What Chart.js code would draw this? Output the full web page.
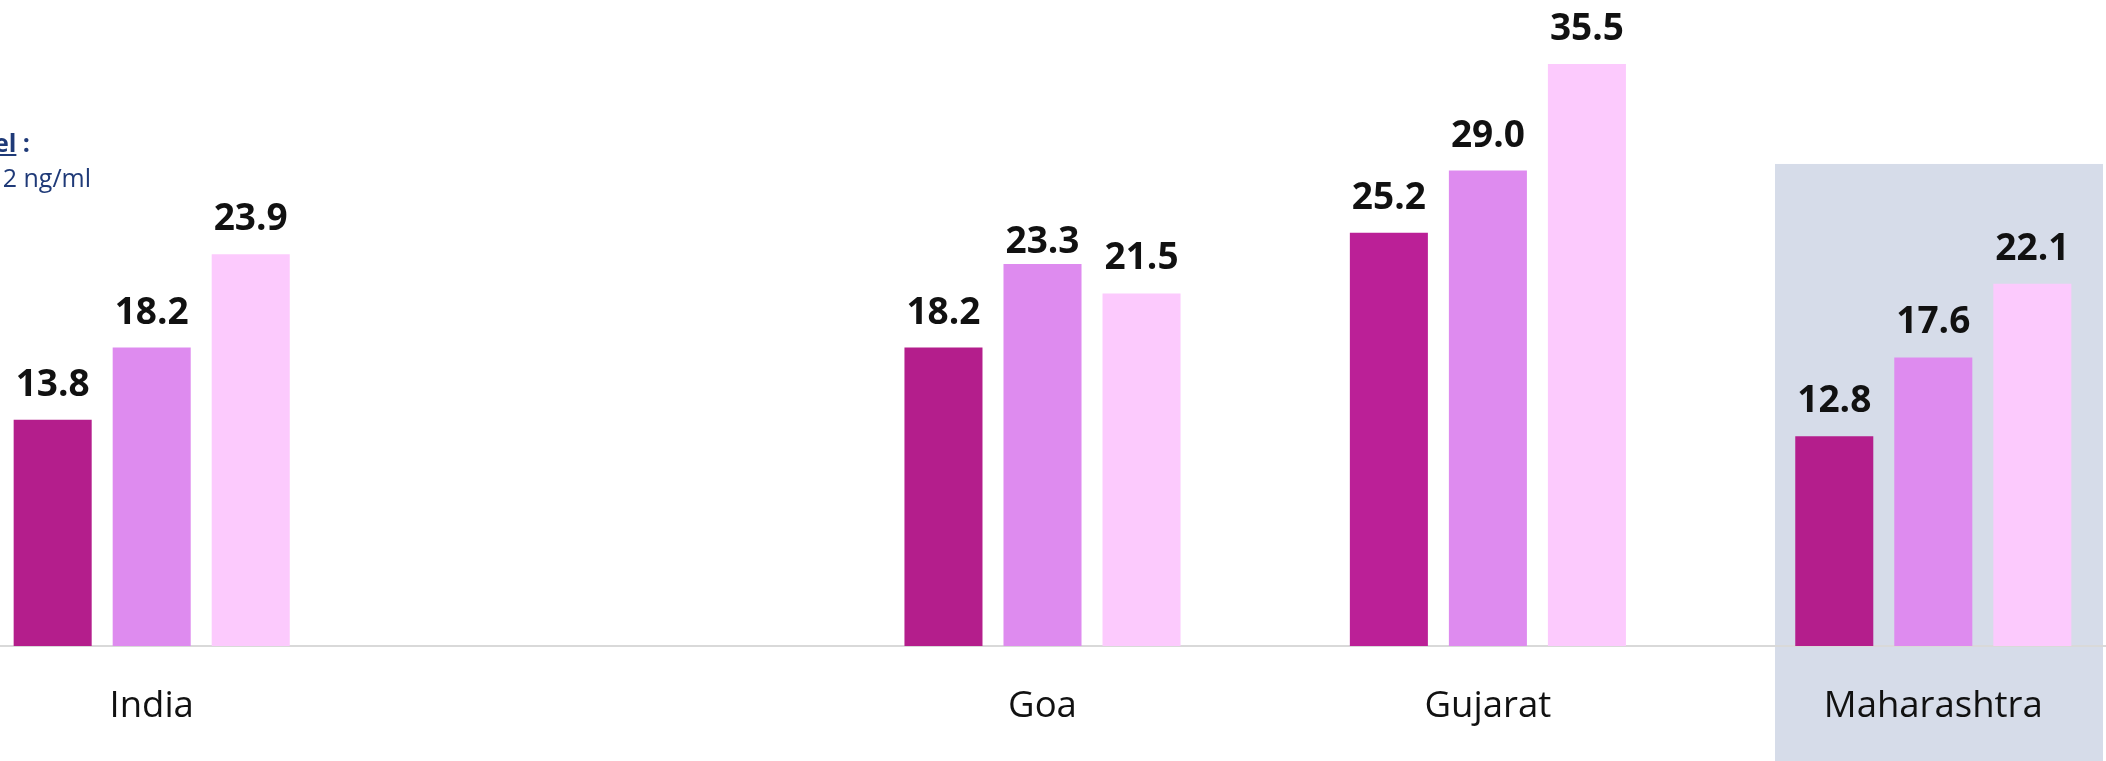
<!DOCTYPE html>
<html>
<head>
<meta charset="utf-8">
<title>Vitamin D deficiency by age group</title>
<script src="https://cdn.jsdelivr.net/npm/chart.js@4.4.1/dist/chart.umd.min.js"></script>
<style>
  html, body { margin: 0; padding: 0; background: #ffffff; overflow: hidden; }
  #wrap { position: relative; width: 2106px; height: 761px; overflow: hidden; }
  #chart { position: absolute; left: -71px; top: 0; }
</style>
</head>
<body>
<div id="wrap"><canvas id="chart" width="2227" height="761"></canvas></div>
<script>
// Regions (the blank slot separates the national figure from the states)
const regions = ['India', '', 'Goa', 'Gujarat', 'Maharashtra'];

// Prevalence (%) per age group
const age0to4   = [13.8, null, 18.2, 25.2, 12.8];
const age5to9   = [18.2, null, 23.3, 29.0, 17.6];
const age10to19 = [23.9, null, 21.5, 35.5, 22.1];

const seriesNames = ['0-4 years', '5-9 years', '10-19 years'];

// Region that gets the shaded backdrop
const highlightRegion = 'Maharashtra';

const FONT = '"Open Sans", "Noto Sans", sans-serif';

// Small vertical nudges for individual value labels (dataset index, region)
const labelNudge = { '1|Goa': 13 };

const highlightPlugin = {
  id: 'highlight',
  beforeDraw(chart) {
    const { ctx, scales: { x, y } } = chart;
    const i = regions.indexOf(highlightRegion);
    const cx = x.getPixelForValue(i);
    const w = x.width / regions.length;
    const left = cx - 0.3554 * w;
    const right = cx + 0.381 * w;
    const top = y.getPixelForValue(29.4);
    ctx.save();
    ctx.fillStyle = '#d6dce9';
    ctx.fillRect(left, top, right - left, chart.height - top);
    ctx.restore();
  }
};

const valueLabelPlugin = {
  id: 'valueLabels',
  afterDatasetsDraw(chart) {
    const { ctx } = chart;
    ctx.save();
    ctx.font = 'bold 37px ' + FONT;
    ctx.fillStyle = '#111111';
    ctx.textAlign = 'center';
    ctx.textBaseline = 'alphabetic';
    chart.data.datasets.forEach((ds, di) => {
      chart.getDatasetMeta(di).data.forEach((bar, i) => {
        const v = ds.data[i];
        if (v === null || v === undefined) return;
        const nudge = labelNudge[di + '|' + regions[i]] || 0;
        ctx.fillText(v.toFixed(1), bar.x, bar.y - 24 + nudge);
      });
    });
    ctx.restore();
  }
};

const notePlugin = {
  id: 'cutoffNote',
  afterDraw(chart) {
    const { ctx } = chart;
    const ox = 71; // canvas is shifted left by this amount
    ctx.save();
    ctx.fillStyle = '#1f3a78';
    ctx.textAlign = 'right';
    ctx.textBaseline = 'alphabetic';
    ctx.font = 'bold 25px ' + FONT;
    const head = 'Deficiency level';
    const colonX = ox + 30;
    ctx.fillText(' :', colonX, 152);
    const colonW = ctx.measureText(' :').width;
    const headRight = colonX - colonW;
    ctx.fillText(head, headRight, 152);
    const hw = ctx.measureText(head).width;
    ctx.fillRect(headRight - hw, 154, hw, 2);
    ctx.font = '25px ' + FONT;
    ctx.fillText('Serum 25(OH)D < 12 ng/ml', ox + 91, 187);
    ctx.restore();
  }
};

new Chart(document.getElementById('chart'), {
  type: 'bar',
  data: {
    labels: regions,
    datasets: [
      { label: seriesNames[0], data: age0to4,
        backgroundColor: ['#b41e8c', '#b41e8c', '#b41e8c', '#bb2097', '#b41e8c'] },
      { label: seriesNames[1], data: age5to9, backgroundColor: '#de8bef' },
      { label: seriesNames[2], data: age10to19, backgroundColor: '#fccafd' }
    ]
  },
  options: {
    responsive: false,
    animation: false,
    devicePixelRatio: 1,
    layout: { padding: 0 },
    datasets: {
      bar: { categoryPercentage: 0.667, barPercentage: 0.788, borderWidth: 0 }
    },
    plugins: {
      legend: { display: false },
      tooltip: { enabled: false },
      title: { display: false }
    },
    scales: {
      x: {
        grid: { display: false, drawTicks: false },
        border: { display: true, color: '#d9d9d9', width: 2 },
        ticks: {
          padding: 39,
          color: '#111111',
          font: { family: FONT, size: 36.5 },
          maxRotation: 0,
          autoSkip: false
        },
        afterFit(scale) { scale.height = 115; }
      },
      y: {
        display: false,
        min: 0,
        max: 39.4
      }
    }
  },
  plugins: [highlightPlugin, valueLabelPlugin, notePlugin]
});
</script>
</body>
</html>
